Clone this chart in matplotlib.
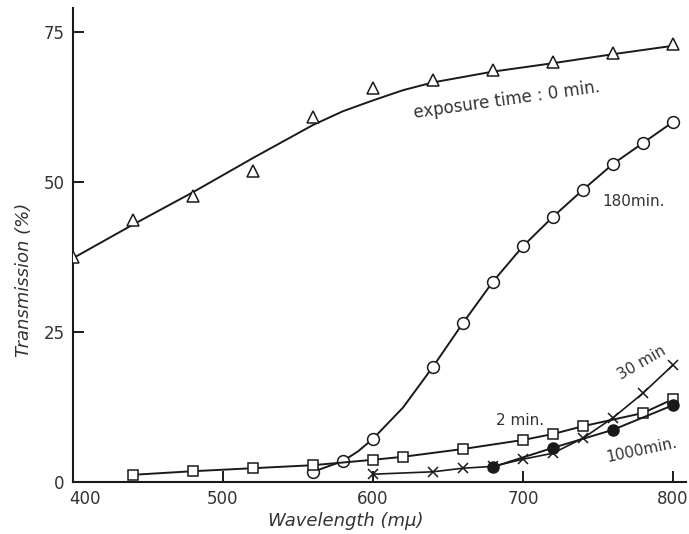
import numpy as np
import matplotlib
matplotlib.use("Agg")
import matplotlib.pyplot as plt
from matplotlib.transforms import ScaledTranslation

# exposure time 0 min (triangles) and the smooth curve drawn through them
wl_0 = [400, 440, 480, 520, 560, 600, 640, 680, 720, 760, 800]
tr_0 = [37.5, 43.7, 47.7, 51.8, 60.8, 65.7, 67.0, 68.7, 70.0, 71.5, 73.0]
curve_wl_0 = [400, 440, 480, 520, 560, 580, 600, 620, 640, 680, 720, 760, 800]
curve_tr_0 = [37.3, 42.9, 48.3, 54.0, 59.5, 61.8, 63.6, 65.3, 66.6, 68.4, 69.8, 71.3, 72.7]

# 180 min (open circles)
wl_180 = [560, 580, 600, 640, 660, 680, 700, 720, 740, 760, 780, 800]
tr_180 = [1.7, 3.5, 7.2, 19.2, 26.5, 33.4, 39.3, 44.2, 48.7, 53.0, 56.5, 60.0]
curve_wl_180 = [560, 580, 590, 600, 620, 640, 660, 680, 700, 720, 740, 760, 780, 800]
curve_tr_180 = [1.7, 3.5, 5.1, 7.2, 12.4, 19.2, 26.5, 33.4, 39.3, 44.2, 48.7, 53.0, 56.5, 60.0]

# 2 min (squares)
wl_2 = [440, 480, 520, 560, 600, 620, 660, 700, 720, 740, 780, 800]
tr_2 = [1.2, 1.8, 2.3, 2.8, 3.7, 4.2, 5.5, 7.0, 8.0, 9.3, 11.5, 13.8]

# 30 min (crosses)
wl_30 = [600, 640, 660, 680, 700, 720, 740, 760, 780, 800]
tr_30 = [1.3, 1.7, 2.3, 2.6, 3.8, 4.8, 7.3, 10.7, 14.8, 19.5]

# 1000 min (filled circles)
wl_1000 = [680, 720, 760, 800]
tr_1000 = [2.5, 5.7, 8.7, 12.8]

ink = "#1a1a1a"
txt = "#333333"

fig = plt.figure(figsize=(6.89, 5.34), dpi=100)
ax = fig.add_axes([73 / 689, 52 / 534, 613 / 689, 474 / 534])

mk = dict(markerfacecolor="white", markeredgecolor=ink, markeredgewidth=1.1)

ax.plot(curve_wl_0, curve_tr_0, color=ink, lw=1.4, zorder=2)
ax.plot(wl_0, tr_0, ls="none", marker="^", ms=8, zorder=3, **mk)

ax.plot(curve_wl_180, curve_tr_180, color=ink, lw=1.4, zorder=2)
ax.plot(wl_180, tr_180, ls="none", marker="o", ms=8.5, zorder=3, **mk)

ax.plot(wl_2, tr_2, color=ink, lw=1.4, marker="s", ms=6.5, zorder=3, **mk)
ax.plot(wl_30, tr_30, color=ink, lw=1.2, marker="x", ms=6.5, mew=1.1, mec=ink, zorder=3)
ax.plot(wl_1000, tr_1000, color=ink, lw=1.4, marker="o", ms=8, mfc=ink, mec=ink, zorder=4)

ax.text(689, 63.7, "exposure time : 0 min.", rotation=8, ha="center", va="center",
        fontsize=12, color=txt)
ax.text(774, 46.7, "180min.", ha="center", va="center", fontsize=11, color=txt)
ax.text(779, 19.8, "30 min", rotation=30, ha="center", va="center", fontsize=11, color=txt)
ax.text(698, 10.3, "2 min.", ha="center", va="center", fontsize=11, color=txt)
ax.text(779, 5.3, "1000min.", rotation=12, ha="center", va="center", fontsize=11, color=txt)

ax.set_xlim(400, 808.7)
ax.set_ylim(0, 79)
ax.set_xticks([400, 500, 600, 700, 800])
ax.set_yticks([0, 25, 50, 75])
ax.tick_params(direction="in", length=8, width=1.4, pad=6, labelsize=12,
               colors=ink, labelcolor=txt)
for s in ["top", "right"]:
    ax.spines[s].set_visible(False)
for s in ["left", "bottom"]:
    ax.spines[s].set_linewidth(1.5)
    ax.spines[s].set_color(ink)

# shift the "400" label right, away from the corner
lab = ax.get_xticklabels()[0]
lab.set_transform(lab.get_transform() + ScaledTranslation(12 / 100, 0, fig.dpi_scale_trans))

ax.set_xlabel("Wavelength (m\u03bc)", fontsize=13, style="italic", color=txt)
ax.set_ylabel("Transmission (%)", fontsize=13, style="italic", color=txt)
ax.xaxis.set_label_coords(0.445, -0.064)
ax.yaxis.set_label_coords(-0.066, 0.426)

fig.savefig("out.png", dpi=100)
